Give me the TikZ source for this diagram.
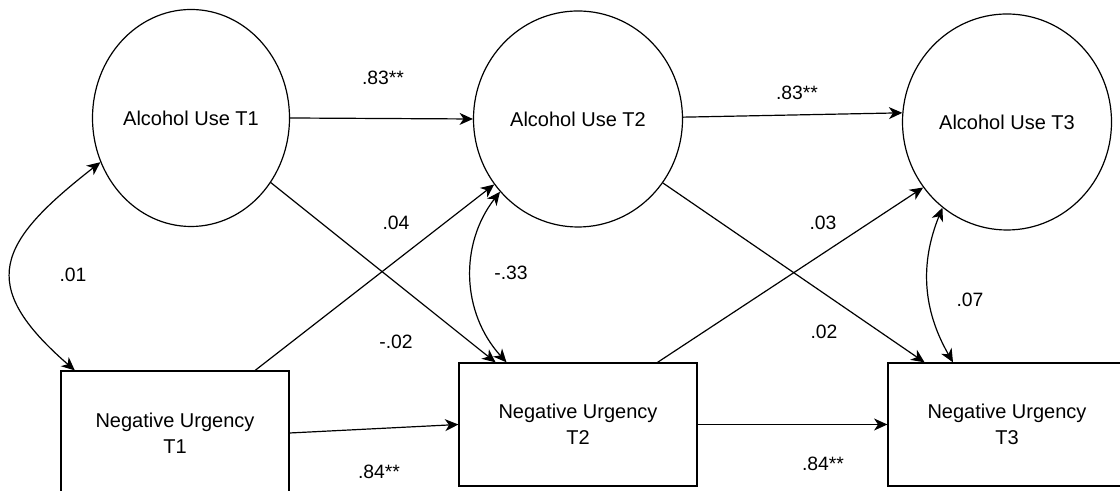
\documentclass[tikz,border=0pt]{standalone}
\usepackage{fontspec}
\setmainfont{Liberation Sans}
\usepackage{tikz}
\usetikzlibrary{positioning,shapes.geometric,arrows.meta}
\tikzstyle{pathDiagram} = [x = .75pt, y = .75pt, line width = .9pt]
\tikzstyle{nodeText} = [font = \fontsize{15}{19.5}\selectfont]
\tikzstyle{latentStyle} = [draw, ellipse, inner sep = 0pt, minimum width = 156.75pt, minimum height = 162pt, nodeText]
\tikzstyle{observedStyle} = [draw, rectangle, inner sep = 0pt, minimum width = 178.5pt, minimum height = 92.25pt, align = center, nodeText]
\tikzstyle{pathArrow} = [-{Stealth[length = 10pt, width = 9pt, inset = 3pt]}]
\tikzstyle{covArrow} = [{Stealth[length = 10pt, width = 9pt, inset = 3pt]}-{Stealth[length = 10pt, width = 9pt, inset = 3pt]}]
\tikzstyle{coefText} = [font = \fontsize{14.5}{17}\selectfont, inner sep = 0pt]
\newcommand{\coef}[3]{\node [coefText] (#1) at (#2) {#3};}

\begin{document}
\begin{tikzpicture}[pathDiagram]
  \useasboundingbox (0,0) rectangle (1120,491);
  \clip (0,0) rectangle (1120,491);

  % alcohol use
  \node [latentStyle, minimum width = 147.75pt, minimum height = 162.75pt] (alcoholOne) at (191,373) {Alcohol Use T1};
  \node [latentStyle] (alcoholTwo) at (578,372) {Alcohol Use T2};
  \node [latentStyle] (alcoholThree) at (1007,369) {Alcohol Use T3};

  % negative urgency
  \node [observedStyle, minimum width = 171pt, minimum height = 93pt] (urgencyOne) at (175,58) {Negative Urgency\\T1};
  \node [observedStyle] (urgencyTwo) at (578,66.5) {Negative Urgency\\T2};
  \node [observedStyle] (urgencyThree) at (1007,66.5) {Negative Urgency\\T3};

  % stability paths
  \draw [pathArrow] (alcoholOne.east) -- (alcoholTwo.west);
  \draw [pathArrow] (alcoholTwo.1) -- (alcoholThree.175);
  \draw [pathArrow] (urgencyOne.east) -- (urgencyTwo.west);
  \draw [pathArrow] (urgencyTwo.east) -- (urgencyThree.west);

  % cross-lagged paths
  \draw [pathArrow] (alcoholOne.-39) -- (urgencyTwo.143);
  \draw [pathArrow] (urgencyOne.38) -- (alcoholTwo.218);
  \draw [pathArrow] (alcoholTwo.-37) -- (urgencyThree.143);
  \draw [pathArrow] (urgencyTwo.38) -- (alcoholThree.218);

  % covariances
  \draw [covArrow] (alcoholOne.206) to [out = 218, in = 139, looseness = 1.6] (urgencyOne.148);
  \draw [covArrow] (alcoholTwo.223) to [bend right = 40] (urgencyTwo.139);
  \draw [covArrow] (alcoholThree.233) to [bend right = 26] (urgencyThree.131);

  \coef{bOne}{383,413}{.83**}
  \coef{bTwo}{797,398}{.83**}
  \coef{cOne}{379,19}{.84**}
  \coef{cTwo}{823,27}{.84**}
  \coef{dOne}{396,268}{.04}
  \coef{eOne}{396,149}{-.02}
  \coef{dTwo}{823,268}{.03}
  \coef{eTwo}{824,159}{.02}
  \coef{rOne}{73,216}{.01}
  \coef{rTwo}{511,218}{-.33}
  \coef{rThree}{970,191}{.07}
\end{tikzpicture}
\end{document}
